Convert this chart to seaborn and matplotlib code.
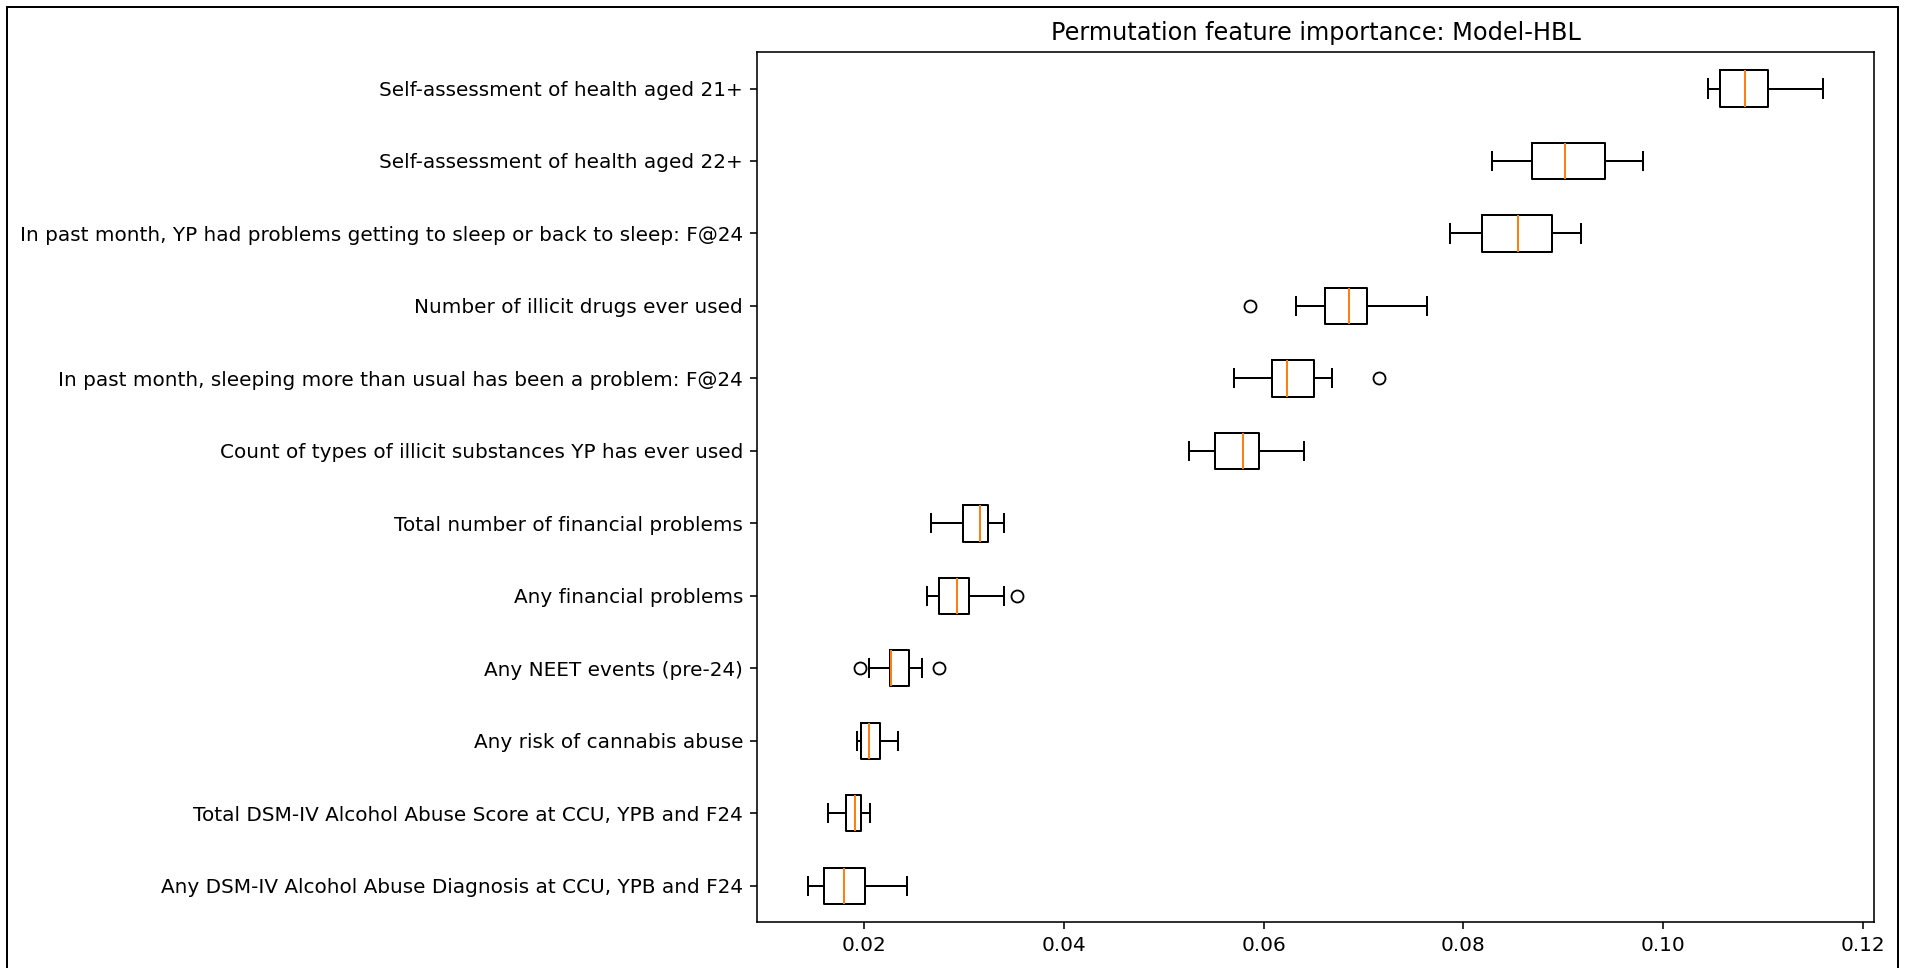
"""Permutation feature importance boxplot for Model-HBL."""

from __future__ import annotations

import matplotlib

matplotlib.use("Agg")

import matplotlib.pyplot as plt
import pandas as pd
import seaborn as sns
from matplotlib.patches import Rectangle

OUTPUT_PATH = "out.png"
DPI = 130
SCALE = 1.11  # the screenshot was taken slightly zoomed in

TITLE = "Permutation feature importance: Model-HBL"

# feature names, top row first
FEATURES = [
    "Self-assessment of health aged 21+",
    "Self-assessment of health aged 22+",
    "In past month, YP had problems getting to sleep or back to sleep: F@24",
    "Number of illicit drugs ever used",
    "In past month, sleeping more than usual has been a problem: F@24",
    "Count of types of illicit substances YP has ever used",
    "Total number of financial problems",
    "Any financial problems",
    "Any NEET events (pre-24)",
    "Any risk of cannabis abuse",
    "Total DSM-IV Alcohol Abuse Score at CCU, YPB and F24",
    "Any DSM-IV Alcohol Abuse Diagnosis at CCU, YPB and F24",
]

# importance scores over the permutation repeats
health_21 = [0.1045, 0.1051, 0.1057, 0.1070, 0.1082, 0.1094, 0.1105, 0.1130, 0.1160]
health_22 = [0.0829, 0.0850, 0.0869, 0.0885, 0.0902, 0.0921, 0.0942, 0.0960, 0.0980]
sleep_problems = [0.0787, 0.0803, 0.0819, 0.0837, 0.0855, 0.0872, 0.0889, 0.0903, 0.0918]
illicit_drugs = [0.0586, 0.0632, 0.0661, 0.0672, 0.0685, 0.0694, 0.0703, 0.0735, 0.0763]
sleeping_more = [0.0570, 0.0590, 0.0608, 0.0616, 0.0623, 0.0637, 0.0650, 0.0668, 0.0715]
substance_types = [0.0525, 0.0538, 0.0551, 0.0565, 0.0579, 0.0587, 0.0595, 0.0618, 0.0640]
financial_total = [0.0267, 0.0284, 0.0299, 0.0308, 0.0316, 0.0320, 0.0324, 0.0332, 0.0340]
financial_any = [0.0263, 0.0269, 0.0275, 0.0284, 0.0293, 0.0299, 0.0305, 0.0340, 0.0353]
neet_events = [0.0196, 0.0205, 0.0226, 0.0226, 0.0227, 0.0235, 0.0245, 0.0258, 0.0275]
cannabis_risk = [0.0193, 0.0195, 0.0197, 0.0201, 0.0205, 0.0210, 0.0216, 0.0225, 0.0234]
alcohol_score = [0.0164, 0.0173, 0.0182, 0.0186, 0.0191, 0.0194, 0.0197, 0.0201, 0.0206]
alcohol_diag = [0.0144, 0.0152, 0.0160, 0.0170, 0.0180, 0.0191, 0.0201, 0.0222, 0.0243]

SCORES = [
    health_21,
    health_22,
    sleep_problems,
    illicit_drugs,
    sleeping_more,
    substance_types,
    financial_total,
    financial_any,
    neet_events,
    cannabis_risk,
    alcohol_score,
    alcohol_diag,
]


def build_frame() -> pd.DataFrame:
    rows = []
    for name, values in zip(FEATURES, SCORES):
        for value in values:
            rows.append({"feature": name, "importance": value})
    return pd.DataFrame(rows)


def plot_importance(df: pd.DataFrame) -> None:
    fig = plt.figure(figsize=(1905 / DPI, 968 / DPI), dpi=DPI)
    ax = fig.add_axes([0.3975, 0.0475, 0.5862, 0.8985])

    sns.boxplot(
        data=df,
        x="importance",
        y="feature",
        order=FEATURES,
        orient="h",
        width=0.5,
        whis=1.5,
        fill=False,
        color="black",
        linecolor="black",
        linewidth=1.0 * SCALE,
        fliersize=6 * SCALE,
        medianprops={"color": "#ff7f0e"},
        flierprops={"marker": "o", "markerfacecolor": "none", "markeredgecolor": "black"},
        ax=ax,
    )

    ax.set_title(TITLE, fontsize=12 * SCALE, pad=6 * SCALE)
    ax.set_xlabel("")
    ax.set_ylabel("")
    ax.tick_params(
        labelsize=10 * SCALE,
        length=3.5 * SCALE,
        width=0.8 * SCALE,
        pad=3.5 * SCALE,
    )
    for spine in ax.spines.values():
        spine.set_visible(True)
        spine.set_linewidth(0.8 * SCALE)
        spine.set_color("black")

    # screenshot frame around the figure (open at the bottom)
    frame = Rectangle(
        (7 / 1905, -0.1),
        (1898 - 7) / 1905,
        1.1 - 7 / 968,
        transform=fig.transFigure,
        fill=False,
        edgecolor="black",
        linewidth=1.1,
        clip_on=False,
    )
    fig.patches.append(frame)

    fig.savefig(OUTPUT_PATH, dpi=DPI)
    plt.close(fig)


def main() -> None:
    df = build_frame()
    plot_importance(df)


if __name__ == "__main__":
    main()
